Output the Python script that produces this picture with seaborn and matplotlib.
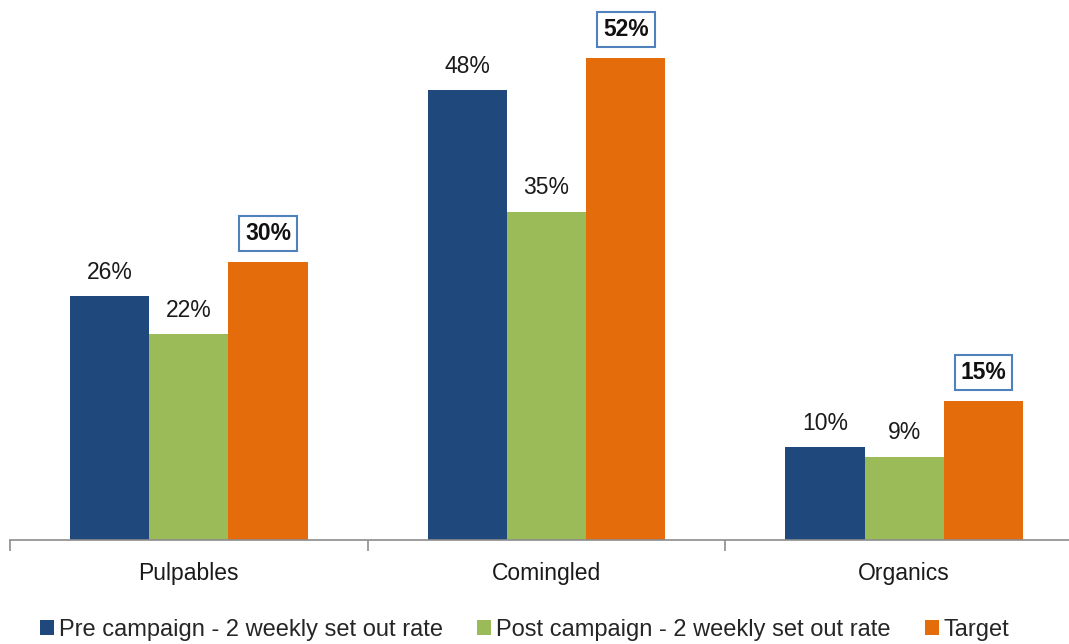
import pandas as pd
import matplotlib.pyplot as plt
import seaborn as sns

# --- dati ---
categorie = ["Pulpables", "Comingled", "Organics"]
serie = ["Pre campaign - 2 weekly set out rate",
         "Post campaign - 2 weekly set out rate",
         "Target"]
pre = [26.3, 48.5, 10]
post = [22.2, 35.4, 9]
target = [30, 52, 15]

colori = ["#1F497D", "#9BBB59", "#E46C0A"]

df = pd.DataFrame({
    "categoria": categorie * 3,
    "serie": [serie[0]] * 3 + [serie[1]] * 3 + [serie[2]] * 3,
    "valore": pre + post + target,
})

sns.set_style("white")
plt.rcParams['font.family'] = ['Liberation Sans', 'DejaVu Sans']

fig = plt.figure(figsize=(10.69, 6.44), dpi=100)
# assi posizionati a mano: base a y=540px, fine asse oltre il bordo destro
ax = fig.add_axes([10 / 1069, 104 / 644, 1073 / 1069, 540 / 644])

sns.barplot(data=df, x="categoria", y="valore", hue="serie",
            hue_order=serie, order=categorie, palette=colori,
            width=0.665, saturation=1, linewidth=0, ax=ax, legend=True)

ax.set_xlim(-0.5, 2.5)
ax.set_ylim(0, 58.25)
ax.set_xlabel("")
ax.set_ylabel("")
ax.set_yticks([])
for s in ["left", "top", "right"]:
    ax.spines[s].set_visible(False)
ax.spines["bottom"].set_color("#8C8C8C")
ax.spines["bottom"].set_linewidth(1.2)

ax.tick_params(axis="x", which="major", length=0, pad=16, labelsize=16.5,
               labelcolor="#1a1a1a")
ax.set_xticks([-0.5, 0.5, 1.5, 2.5], minor=True)
ax.tick_params(axis="x", which="minor", length=8, width=1.2, color="#8C8C8C",
               direction="out", bottom=True)

# etichette sopra le barre
for i, cont in enumerate(ax.containers):
    etichette = [f"{round(v)}%" for v in cont.datavalues]
    if i == 2:
        testi = ax.bar_label(cont, labels=etichette, padding=12,
                             fontsize=16.5, fontweight="bold", color="#111111")
        for t in testi:
            t.set_bbox(dict(boxstyle="square,pad=0.26", facecolor="white",
                            edgecolor="#4F81BD", linewidth=1.5))
    else:
        ax.bar_label(cont, labels=etichette, padding=9, fontsize=16.5,
                     color="#1a1a1a")

handles, labels = ax.get_legend_handles_labels()
ax.get_legend().remove()
fig.legend(handles, labels, loc="lower center", bbox_to_anchor=(0.491, -0.028),
           ncol=3, frameon=False, fontsize=17, handlelength=0.6,
           handleheight=0.6, handletextpad=0.2, columnspacing=1.45)

plt.savefig("out.png", dpi=100)
